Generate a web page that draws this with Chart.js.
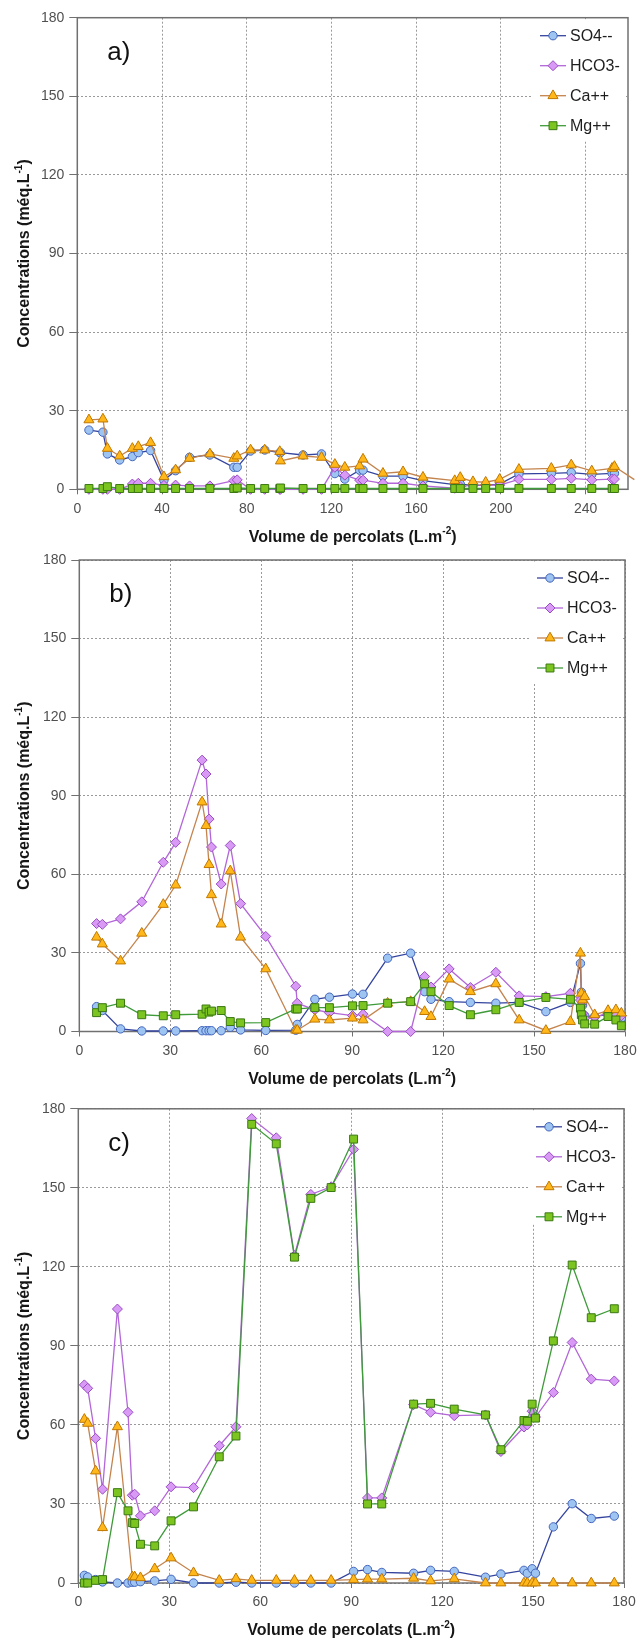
<!DOCTYPE html>
<html>
<head>
<meta charset="utf-8">
<script src="https://cdn.jsdelivr.net/npm/chart.js@4.4.1/dist/chart.umd.min.js"></script>
<style>
  html, body { margin: 0; padding: 0; background: #ffffff; }
  body { width: 637px; height: 1646px; position: relative; overflow: hidden; }
  .panel { position: absolute; left: 0; width: 637px; }
  canvas { display: block; }
</style>
</head>
<body>
<div class="panel" style="top:0px;height:548px"><canvas id="chartA" width="637" height="548"></canvas></div>
<div class="panel" style="top:548px;height:550px"><canvas id="chartB" width="637" height="550"></canvas></div>
<div class="panel" style="top:1098px;height:548px"><canvas id="chartC" width="637" height="548"></canvas></div>
<script>
// ---- Data -------------------------------------------------------------
const seriesNames = ['SO4--', 'HCO3-', 'Ca++', 'Mg++'];
const concentrationTicks = [0, 30, 60, 90, 120, 150, 180];
const volumeTicksA = [0, 40, 80, 120, 160, 200, 240];
const volumeTicksBC = [0, 30, 60, 90, 120, 150, 180];
const volumeMaxA = 260;
const volumeMaxBC = 180;

// a) cumulative leachate volume (L.m-2) and concentrations (meq/L)
const volumeA = [5.5, 12.1, 14.2, 20, 26, 28.8, 34.6, 40.9, 46.4, 53, 62.6, 73.9, 75.5, 81.8, 88.5, 95.6, 95.9, 106.6, 115.3,
  121.6, 126.3, 133.3, 134.9, 144.3, 153.8, 163.2, 178.2, 180.8, 186.8, 192.8, 199.4, 208.5, 223.8, 233.2, 242.9, 252.5, 253.6, 263];
const so4A = [22.6, 21.8, 13.5, 11.2, 12.5, 14, 14.8, 3.5, 7.1, 12.2, 13.1, 8.4, 8.4, 14.6, 15, 14, 14, 13.1, 13.5,
  6, 3.9, 7.3, 7.3, 5, 5, 3.3, 1.8, 2, 1.5, 1.5, 2, 5.9, 6.1, 6.4, 5.7, 6.1, 6.1, null];
const hco3A = [0, 0, 0, 0, 2, 2.3, 2.3, 1.5, 1.6, 1.3, 1.3, 3.3, 3.6, 0, 0, 0, 0, 0, 0,
  8.4, 5.4, 3.5, 3.5, 2.3, 2.3, 1.3, 0.4, 1, 1.6, 1.6, 1.6, 3.8, 3.8, 4.2, 3.6, 3.9, 3.9, null];
const caA = [26.5, 26.8, 15.6, 12.7, 15.6, 16.3, 17.8, 4.8, 7.4, 11.8, 13.5, 11.8, 12.7, 15, 15, 14.4, 10.8, 12.7, 12.2,
  9.5, 8.4, 8.9, 11.5, 6.1, 6.7, 4.6, 3.3, 4.5, 2.9, 2.7, 3.8, 7.6, 8.0, 9.3, 7.0, 8.0, 8.7, 3.7];
const mgA = [0.3, 0.3, 1, 0.3, 0.3, 0.3, 0.3, 0.3, 0.3, 0.3, 0.3, 0.3, 0.5, 0.3, 0.3, 0.3, 0.5, 0.3, 0.3,
  0.3, 0.3, 0.3, 0.3, 0.3, 0.3, 0.3, 0.3, 0.3, 0.3, 0.3, 0.3, 0.3, 0.3, 0.3, 0.3, 0.3, 0.3, null];

// b)
const volumeB = [5.7, 7.6, 13.6, 20.6, 27.7, 31.8, 40.5, 41.8, 42.8, 43.6, 46.8, 49.8, 53.2, 61.5, 71.4, 71.9, 77.7, 82.5, 90.1,
  93.6, 101.7, 109.3, 113.9, 116, 122, 129, 137.4, 145.1, 153.9, 162, 165.3, 165.6, 166, 166.7, 170, 174.4, 177, 178.8];
const so4B = [9.5, 8, 1, 0.2, 0.2, 0.2, 0.3, 0.3, 0.3, 0.3, 0.3, 1.6, 0.6, 0.4, 0.5, 2.7, 12.3, 13.1, 14.3,
  14.2, 28, 29.9, 15.2, 12.3, 11.4, 11.1, 10.8, 11.1, 7.6, 11.1, 26, 15, 10, 6, 5.7, 6.5, 7, 5];
const hco3B = [41.2, 40.9, 43, 49.5, 64.6, 72.2, 103.6, 98.3, 81.1, 70.4, 56.3, 71, 48.8, 36.3, 17.3, 10.8, 8.3, 7.2, 6.1,
  6.6, 0, 0, 21, 17, 23.9, 16.8, 22.6, 13.6, 13.3, 14.6, 12, 10, 7, 5, 5.5, 7, 6.5, 6];
const caB = [36, 33.4, 26.9, 37.5, 48.5, 55.9, 87.6, 78.6, 63.7, 52.2, 41, 61.3, 36, 23.9, 0.5, 0.5, 4.7, 4.4, 5.1,
  4.4, 10.8, 11.4, 7.6, 5.7, 20, 15.2, 18.2, 4.4, 0.4, 3.8, 29.9, 14.6, 12, 13.3, 6.4, 8, 8.3, 7];
const mgB = [7.2, 9.1, 10.8, 6.4, 6, 6.4, 6.6, 8.6, 7.4, 7.8, 8, 3.8, 3.3, 3.4, 8.6, 8.6, 9.1, 9.1, 9.8,
  9.9, 10.8, 11.4, 18.2, 15.2, 9.9, 6.4, 8.3, 11.1, 13, 12.3, 8.9, 6.4, 4.4, 2.9, 2.8, 5.7, 4.4, 2.2];

// c)
const volumeC = [2, 3.1, 5.7, 8, 12.9, 16.4, 17.8, 18.6, 20.5, 25.2, 30.6, 38, 46.5, 52, 57.2, 65.3, 71.3, 76.7, 83.4,
  90.8, 95.4, 100.1, 110.6, 116.2, 124, 134.3, 139.4, 147, 148.1, 149.7, 150.8, 156.7, 162.9, 169.2, 176.8];
const so4C = [2.9, 2.3, 1.3, 0.4, 0, 0, 0.3, 0.3, 0.5, 0.8, 1.4, 0, 0, 0.3, 0, 0, 0, 0, 0,
  4.4, 5.1, 4, 3.7, 4.8, 4.4, 2.2, 3.4, 4.8, 3.7, 5.4, 3.7, 21.3, 30.1, 24.5, 25.4];
const hco3C = [75.2, 73.9, 54.9, 35.6, 104, 64.8, 33.3, 33.7, 25.5, 27.4, 36.5, 36.2, 52.1, 59.3, 176.3, 169, 124.3, 147.5, 150.4,
  164.6, 32.3, 32.3, 67.7, 64.8, 63.5, 63.8, 49.9, 59.2, 60, 65.2, 63, 72.3, 91.3, 77.4, 76.7];
const caC = [62.1, 60.6, 42.5, 21, 59.3, null, 2.3, 2.3, 2, 5.4, 9.5, 3.9, 1, 1.6, 1, 1, 1, 1, 1,
  1.3, 1.5, 1.5, 1.8, 0.8, 1.6, 0, 0, 0, 0, 0, 0, 0, 0, 0, 0];
const mgC = [0, 0, 1, 1.3, 34.3, 27.4, 22.9, 22.6, 14.7, 14.1, 23.6, 28.9, 47.9, 55.8, 174.1, 166.7, 123.7, 146, 150.1,
  168.5, 30, 30, 67.9, 68.2, 66, 63.8, 50.6, 61.7, 61.4, 67.9, 62.6, 91.9, 120.7, 100.7, 104.1];

// ---- Styling ----------------------------------------------------------
const FONT = "'Liberation Sans', Arial, Helvetica, sans-serif";
const seriesStyle = [
  { line: '#34449e', fill: '#9ec4f2', edge: '#4566bc', shape: 'circle',   radius: 4.2 },
  { line: '#b266d8', fill: '#d99af6', edge: '#9a4dc2', shape: 'rectRot',  radius: 5.0 },
  { line: '#c4844e', fill: '#ffb71a', edge: '#c07800', shape: 'triangle', radius: 5.8 },
  { line: '#3f9a3a', fill: '#7cc520', edge: '#3a7812', shape: 'rect',     radius: 5.6 }
];

function makeDataset(volume, values, idx, xMax) {
  const s = seriesStyle[idx];
  return {
    label: seriesNames[idx],
    data: volume.map((v, k) => ({ x: v, y: values[k] })),
    borderColor: s.line,
    backgroundColor: s.fill,
    borderWidth: 1.3,
    pointStyle: s.shape,
    pointRadius: c => (c.raw && c.raw.x > xMax ? 0 : s.radius),
    pointBackgroundColor: s.fill,
    pointBorderColor: s.edge,
    pointBorderWidth: 1,
    tension: 0,
    spanGaps: true,
    clip: false,
    order: 4 - idx
  };
}

// draws "main" + superscript + tail, centred on (0,0) of the current transform
function drawSupTitle(ctx, main, sup, tail) {
  const big = `bold 16px ${FONT}`;
  const small = `bold 10px ${FONT}`;
  ctx.font = big; const w1 = ctx.measureText(main).width; const w3 = ctx.measureText(tail).width;
  ctx.font = small; const w2 = ctx.measureText(sup).width;
  let x = -(w1 + w2 + w3) / 2;
  ctx.textBaseline = 'middle';
  ctx.textAlign = 'left';
  ctx.font = big; ctx.fillText(main, x, 0); x += w1;
  ctx.font = small; ctx.fillText(sup, x, -6); x += w2;
  ctx.font = big; ctx.fillText(tail, x, 0);
}

const panelDecor = {
  id: 'panelDecor',
  beforeDatasetsDraw(chart, args, opts) {
    const { ctx, chartArea: a } = chart;
    ctx.save();
    // plot frame
    ctx.strokeStyle = '#707070';
    ctx.lineWidth = 1.5;
    ctx.strokeRect(a.left, a.top, a.right - a.left, a.bottom - a.top);
    // legend backing
    ctx.fillStyle = '#ffffff';
    ctx.fillRect(a.right - 96, a.top + 1.5, 94, opts.legendBox);
    ctx.restore();
  },
  afterDraw(chart, args, opts) {
    const { ctx, chartArea: a } = chart;
    ctx.save();
    // panel letter
    ctx.fillStyle = '#111111';
    ctx.font = `26px ${FONT}`;
    ctx.textAlign = 'left';
    ctx.textBaseline = 'middle';
    ctx.fillText(opts.letter, a.left + 30, a.top + 35);

    // legend
    const textX = a.right - 58;
    seriesNames.forEach((name, i) => {
      const s = seriesStyle[i];
      const y = a.top + 18 + i * 30;
      const mx = textX - 17;
      ctx.strokeStyle = s.line;
      ctx.lineWidth = 1.3;
      ctx.beginPath(); ctx.moveTo(mx - 13, y); ctx.lineTo(mx + 13, y); ctx.stroke();
      ctx.fillStyle = s.fill;
      ctx.strokeStyle = s.edge;
      ctx.lineWidth = 1;
      Chart.helpers.drawPoint(ctx, { pointStyle: s.shape, radius: s.radius, rotation: 0, borderWidth: 1 }, mx, y);
      ctx.fillStyle = '#1e1e1e';
      ctx.font = `16px ${FONT}`;
      ctx.textAlign = 'left';
      ctx.textBaseline = 'middle';
      ctx.fillText(name, textX, y + 1);
    });

    // axis titles
    ctx.fillStyle = '#161616';
    ctx.save();
    ctx.translate((a.left + a.right) / 2, a.bottom + 48);
    drawSupTitle(ctx, 'Volume de percolats (L.m', '-2', ')');
    ctx.restore();
    ctx.save();
    ctx.translate(25, (a.top + a.bottom) / 2);
    ctx.rotate(-Math.PI / 2);
    drawSupTitle(ctx, 'Concentrations (méq.L', '-1', ')');
    ctx.restore();
    ctx.restore();
  }
};

function makeChart(id, cfg) {
  const xTicks = cfg.xTicks;
  return new Chart(document.getElementById(id), {
    type: 'line',
    data: {
      datasets: [
        makeDataset(cfg.volume, cfg.so4, 0, cfg.xMax),
        makeDataset(cfg.volume, cfg.hco3, 1, cfg.xMax),
        makeDataset(cfg.volume, cfg.ca, 2, cfg.xMax),
        makeDataset(cfg.volume, cfg.mg, 3, cfg.xMax)
      ]
    },
    options: {
      responsive: false,
      animation: false,
      events: [],
      layout: { padding: { left: 0, top: cfg.padTop, right: cfg.padRight, bottom: 0 } },
      scales: {
        x: {
          type: 'linear',
          min: 0,
          max: cfg.xMax,
          afterBuildTicks: s => { s.ticks = xTicks.map(v => ({ value: v })); },
          afterFit: s => { s.height = cfg.xAxisHeight; s.paddingLeft = 0; s.paddingRight = 0; },
          ticks: { color: '#505050', font: { family: FONT, size: 14 }, padding: 6, maxRotation: 0, autoSkip: false },
          grid: { color: '#9a9a9a', lineWidth: 1, drawTicks: true, tickLength: 5, tickColor: '#707070', tickWidth: 1, tickBorderDash: [] },
          border: { display: false, dash: [2, 2] }
        },
        y: {
          type: 'linear',
          min: 0,
          max: 180,
          afterBuildTicks: s => { s.ticks = concentrationTicks.map(v => ({ value: v })); },
          afterFit: s => { s.width = cfg.yAxisWidth; s.paddingTop = 0; s.paddingBottom = 0; },
          ticks: { color: '#505050', font: { family: FONT, size: 14 }, padding: 5 },
          grid: { color: '#9a9a9a', lineWidth: 1, drawTicks: true, tickLength: 8, tickColor: '#707070', tickWidth: 1, tickBorderDash: [] },
          border: { display: false, dash: [2, 2] }
        }
      },
      plugins: {
        legend: { display: false },
        tooltip: { enabled: false },
        panelDecor: { letter: cfg.letter, legendBox: cfg.legendBox }
      }
    },
    plugins: [panelDecor]
  });
}

makeChart('chartA', {
  letter: 'a)', volume: volumeA, so4: so4A, hco3: hco3A, ca: caA, mg: mgA,
  xTicks: volumeTicksA, xMax: volumeMaxA,
  padTop: 17.7, padRight: 9, yAxisWidth: 77.3, xAxisHeight: 58.7, legendBox: 122
});
makeChart('chartB', {
  letter: 'b)', volume: volumeB, so4: so4B, hco3: hco3B, ca: caB, mg: mgB,
  xTicks: volumeTicksBC, xMax: volumeMaxBC,
  padTop: 12, padRight: 12, yAxisWidth: 79.3, xAxisHeight: 66.5, legendBox: 122
});
makeChart('chartC', {
  letter: 'c)', volume: volumeC, so4: so4C, hco3: hco3C, ca: caC, mg: mgC,
  xTicks: volumeTicksBC, xMax: volumeMaxBC,
  padTop: 10.8, padRight: 13, yAxisWidth: 78.3, xAxisHeight: 63, legendBox: 114
});
</script>
</body>
</html>
